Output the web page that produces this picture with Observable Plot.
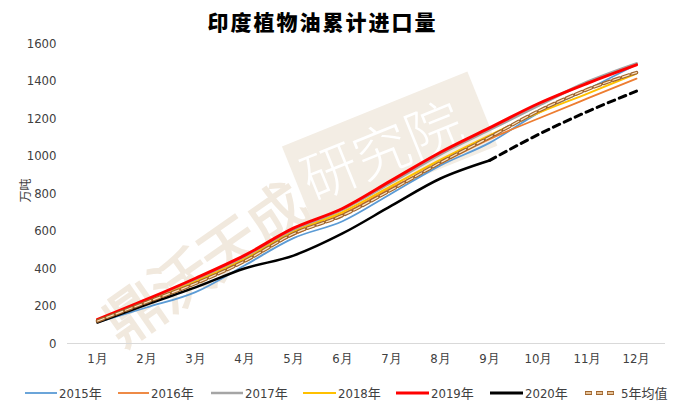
<!DOCTYPE html>
<html>
<head>
<meta charset="utf-8">
<script src="https://cdn.jsdelivr.net/npm/d3@7"></script>
<script src="https://cdn.jsdelivr.net/npm/@observablehq/plot@0.6"></script>
<style>
  html, body { margin: 0; padding: 0; background: #fff; }
  #wrap { position: relative; width: 678px; height: 401px; overflow: hidden; font-family: "Liberation Sans Narrow", "DejaVu Sans Condensed", "Liberation Sans", sans-serif; }
  #title { position: absolute; top: 6px; left: 0; width: 645px; text-align: center; font-family: "Noto Sans CJK SC", sans-serif; font-weight: 900; font-size: 21px; letter-spacing: 2px; color: #000; }
  #ylab { position: absolute; left: 12px; top: 182px; font-family: "Noto Sans CJK SC", sans-serif; font-size: 12px; color: #404040; transform: rotate(-90deg); transform-origin: center; }
  #wm { position: absolute; left: 0; top: 0; pointer-events: none; }
  #chart { position: absolute; left: 0; top: 0; }
  #legend { position: absolute; top: 383px; left: 0; width: 678px; height: 18px; }
  .li { position: absolute; top: 0; display: flex; align-items: center; font-size: 13px; color: #404040; font-family: "Liberation Sans Narrow", "DejaVu Sans Condensed", "Noto Sans CJK SC", sans-serif; }
  .li svg { margin-right: 2px; }
</style>
</head>
<body>
<div id="wrap">
  <svg id="wm" width="678" height="401">
    <g transform="translate(205,265) rotate(-35)" fill="none" stroke="#f1e9de" stroke-width="3">
      <text x="-115" y="20" font-size="58" font-family="Noto Sans CJK SC" font-weight="300">鼎沃天成</text>
    </g>
    <g transform="translate(385,148) rotate(-22)">
      <rect x="-95" y="-40" width="200" height="80" fill="#f3ede4"></rect>
      <text x="-88" y="22" font-size="56" font-family="Noto Sans CJK SC" font-weight="300" fill="#ffffff">研究院</text>
    </g>
  </svg>
  <div id="title">印度植物油累计进口量</div>
  <div id="ylab">万吨</div>
  <div id="chart"></div>
  <div id="legend"></div>
</div>
<script>
const months = ["1月","2月","3月","4月","5月","6月","7月","8月","9月","10月","11月","12月"];
const yTicks = [0, 200, 400, 600, 800, 1000, 1200, 1400, 1600];

const s2015 = [112, 192, 274, 416, 562, 652, 800, 950, 1070, 1230, 1355, 1488];
const s2016 = [120, 215, 320, 445, 580, 690, 830, 960, 1090, 1200, 1307, 1413];
const s2017 = [122, 225, 340, 460, 600, 715, 860, 1010, 1140, 1270, 1395, 1493];
const s2018 = [125, 222, 330, 450, 595, 700, 840, 980, 1110, 1230, 1333, 1440];
const s2019 = [128, 235, 348, 470, 615, 720, 870, 1020, 1150, 1280, 1388, 1486];
const s2020 = [112, 208, 299, 400, 469, 587, 735, 880, 976, 1115, 1237, 1346];
const sMean = [120, 220, 320, 439, 585, 683, 820, 965, 1100, 1240, 1355, 1445];
const actualUpTo = 9; // 2020 actual through 9月, forecast after

const seriesNames = ["2015年","2016年","2017年","2018年","2019年","2020年","5年均值"];
const seriesColors = ["#5b9bd5","#ed7d31","#a5a5a5","#ffc000","#ff0000","#000000","#a0652d"];

function rows(name, arr) { return arr.map((v, i) => ({series: name, month: months[i], value: v})); }

const d2015 = rows("2015年", s2015);
const d2016 = rows("2016年", s2016);
const d2017 = rows("2017年", s2017);
const d2018 = rows("2018年", s2018);
const d2019 = rows("2019年", s2019);
const d2020a = rows("2020年", s2020).slice(0, actualUpTo);
const d2020f = rows("2020年", s2020).slice(actualUpTo - 1);
const dMean = rows("5年均值", sMean);

const curve = "monotone-x";
const common = {x: "month", y: "value", curve};

const plot = Plot.plot({
  width: 678,
  height: 372,
  marginTop: 43,
  marginBottom: 29,
  marginLeft: 67,
  marginRight: 13,
  style: {background: "transparent", fontFamily: "'Liberation Sans Narrow', 'DejaVu Sans Condensed', sans-serif", fontSize: "13px", color: "#404040", overflow: "visible"},
  x: {type: "point", domain: months, padding: 0.5, label: null, tickSize: 0, tickPadding: 10},
  y: {domain: [0, 1600], ticks: yTicks, tickFormat: d3.format("d"), label: null, tickSize: 0, tickPadding: 11},
  marks: [
    Plot.ruleY([0], {stroke: "#d9d9d9", strokeWidth: 1}),
    Plot.line(d2015, {...common, stroke: seriesColors[0], strokeWidth: 1.8}),
    Plot.line(d2016, {...common, stroke: seriesColors[1], strokeWidth: 1.8}),
    Plot.line(d2017, {...common, stroke: seriesColors[2], strokeWidth: 3}),
    Plot.line(d2018, {...common, stroke: seriesColors[3], strokeWidth: 2}),
    Plot.line(d2019, {...common, stroke: seriesColors[4], strokeWidth: 3}),
    Plot.line(d2020a, {...common, stroke: seriesColors[5], strokeWidth: 2.5}),
    Plot.line(d2020f, {...common, stroke: seriesColors[5], strokeWidth: 3, strokeDasharray: "7,5"}),
    Plot.line(dMean, {...common, stroke: seriesColors[6], strokeWidth: 3.5, strokeDasharray: "7,3"}),
    Plot.line(dMean, {...common, stroke: "#fde3c0", strokeWidth: 1.2, strokeDasharray: "7,3"})
  ]
});
document.getElementById("chart").appendChild(plot);

// legend
const legendX = [[25, 59], [118, 151], [211, 245], [303, 338], [396, 431], [490, 525], [585, 618]];
const legendW = [1.8, 1.8, 2.5, 2, 3, 3, 3];
const lg = document.getElementById("legend");
seriesNames.forEach((name, i) => {
  const div = document.createElement("div");
  div.className = "li";
  div.style.left = legendX[i][0] + "px";
  const w = legendX[i][1] - legendX[i][0] - 2;
  let sym;
  if (i === 6) {
    sym = `<svg width="${w}" height="14"><line x1="0" x2="${w}" y1="7" y2="7" stroke="${seriesColors[i]}" stroke-width="4" stroke-dasharray="7,4"/><line x1="0.8" x2="${w}" y1="7" y2="7" stroke="#fde3c0" stroke-width="1.6" stroke-dasharray="5.4,5.6"/></svg>`;
  } else {
    sym = `<svg width="${w}" height="14"><line x1="0" x2="${w}" y1="7" y2="7" stroke="${seriesColors[i]}" stroke-width="${legendW[i]}"/></svg>`;
  }
  div.innerHTML = sym + `<span${i === 6 ? ' style="margin-left:3px"' : ''}>${name}</span>`;
  lg.appendChild(div);
});
</script>
</body>
</html>
